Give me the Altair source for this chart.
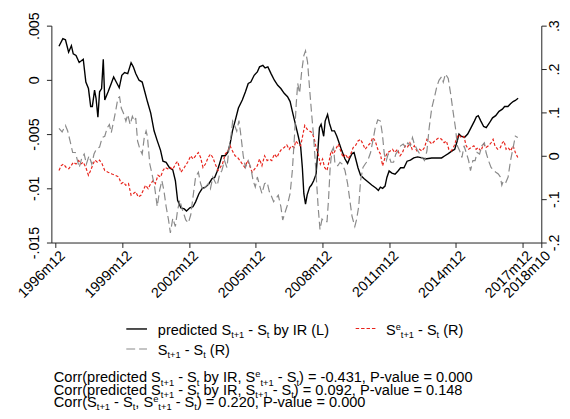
import altair as alt
import pandas as pd

# x values: months since 1996m12; y values in axis units
t_pred = [1.8, 3.9, 5.3, 7.0, 8.5, 9.5, 11.0, 12.7, 14.9, 16.3, 17.7, 18.9, 19.8, 21.0, 21.8, 22.8, 23.7, 24.8,
          25.7, 26.5, 28.3, 30.0, 31.3, 32.7, 34.3, 35.7, 37.2, 38.9, 40.7, 41.9, 43.2, 45.0, 46.7, 48.1, 49.5,
          51.3, 53.1, 54.8, 56.6, 57.9, 59.6, 61.4, 63.2, 64.6, 65.8, 67.6, 69.4, 70.6, 72.4, 74.1, 75.5, 77.3,
          79.1, 80.8, 82.6, 84.4, 85.8, 87.0, 88.3, 89.7, 91.5, 92.9, 94.1, 95.4, 96.8, 98.6, 100.7, 102.4,
          103.9, 105.3, 107.1, 108.8, 110.0, 111.8, 113.0, 114.5, 116.2, 118.0, 119.8, 121.5, 123.3, 125.1,
          126.5, 127.7, 129.5, 130.9, 132.2, 133.1, 133.9, 134.8, 135.7, 137.0, 138.0, 139.2, 140.5, 141.6,
          142.3, 143.2, 144.6, 145.4, 146.7, 147.7, 149.0, 150.4, 151.7, 152.9, 154.3, 156.1, 157.5, 158.7,
          159.9, 161.0, 161.9, 163.1, 164.5, 166.3, 168.4, 170.5, 172.9, 174.1, 175.2, 176.4, 177.7, 178.7,
          179.9, 181.4, 183.1, 184.7, 186.1, 187.9, 189.6, 191.4, 193.2, 195.3, 197.6, 199.4, 202.9, 206.5,
          208.2, 210.0, 211.8, 213.5, 215.3, 216.7, 217.6, 218.8, 220.6, 222.3, 224.1, 225.9, 227.0, 228.0,
          229.4, 230.9, 232.3, 233.9, 235.7, 237.4, 239.2, 241.0, 242.2, 244.0, 245.4, 246.8, 248.0, 249.5]
v_pred = [.0031, .0038, .0037, .00255, .00315, .0024, .00225, .0016, .0019, -.0002, -.0008, -.00245, -.00245,
          -.00094, -.0017, -.00345, -.0011, -.0008, .0019, -.00185, -.0011, -.00033, .00027, -.0002, -.00073,
          .00042, .00067, .00058, .00158, .0012, .00058, -.00003, -.0002, -.0011, -.002, -.00306, -.0047,
          -.0056, -.0065, -.0075, -.0076, -.0081, -.0083, -.0093, -.0111, -.0118, -.0119, -.0121, -.0118,
          -.0117, -.01125, -.0105, -.0100, -.0099, -.0096, -.0091, -.0090, -.0085, -.0078, -.0070, -.0070,
          -.0067, -.0059, -.0047, -.0038, -.0026, -.00185, -.0011, -.00033, -.0002, .00042, .00073, .0012,
          .00133, .0011, .0012, .00058, -.00003, -.0005, -.0008, -.00124, -.00155, -.002, -.0029, -.0042,
          -.0052, -.0062, -.0081, -.0105, -.01145, -.0106, -.0099, -.0097, -.0093, -.0087, -.0062, -.0044,
          -.0041, -.0052, -.0038, -.0032, -.0040, -.0047, -.0047, -.0052, -.0058, -.0065, -.0073, -.0077,
          -.0072, -.0068, -.0067, -.0073, -.0081, -.0088, -.0091, -.0094, -.0097, -.0100, -.0102, -.0099,
          -.0100, -.0098, -.0090, -.0084, -.0086, -.0087, -.0084, -.0081, -.0081, -.0075, -.0074, -.0072,
          -.0071, -.0072, -.0073, -.0072, -.0072, -.0072, -.0070, -.0068, -.0066, -.0064, -.0056, -.0050,
          -.0052, -.0053, -.0050, -.0044, -.0038, -.0034, -.0033, -.0038, -.0043, -.0044, -.0040, -.0035,
          -.0033, -.0029, -.0027, -.00245, -.00245, -.0022, -.0020, -.0019, -.0017]

t_act = [1.8, 3.5, 5.3, 6.5, 7.8, 9.2, 10.6, 11.8, 12.7, 14.2, 15.4, 16.6, 18.0, 19.5, 20.7, 21.9, 23.7, 25.1,
         26.5, 27.8, 29.0, 30.0, 31.3, 32.5, 33.6, 34.5, 35.4, 36.6, 37.9, 38.9, 40.2, 41.4, 42.5, 43.2, 44.2,
         45.5, 46.7, 47.8, 48.8, 49.5, 50.8, 52.0, 53.4, 54.8, 56.1, 57.3, 58.4, 59.6, 60.9, 61.9, 63.2, 64.6,
         65.8, 67.0, 68.1, 69.3, 70.2, 71.6, 72.9, 74.1, 75.5, 77.0, 78.2, 79.5, 80.8, 82.3, 83.5, 84.8, 86.1,
         87.2, 88.5, 89.7, 91.1, 92.4, 93.6, 94.7, 95.5, 96.4, 97.7, 98.9, 100.0, 101.2, 102.4, 103.9, 105.3,
         106.5, 107.7, 108.8, 110.0, 111.3, 112.7, 114.1, 115.3, 116.6, 117.6, 118.9, 120.1, 121.5, 122.5,
         123.6, 125.0, 126.5, 127.7, 128.9, 129.8, 130.6, 131.6, 132.7, 133.9, 134.8, 135.9, 137.0, 138.0,
         139.2, 140.5, 141.6, 142.6, 143.7, 145.0, 146.4, 147.2, 148.1, 149.0, 149.9, 150.7, 152.2, 153.4,
         154.6, 156.1, 157.5, 158.7, 159.9, 161.4, 162.3, 163.5, 164.5, 165.8, 167.0, 168.4, 169.9, 171.1,
         172.4, 173.8, 175.2, 176.3, 177.3, 178.4, 179.4, 180.9, 182.3, 183.5, 184.7, 186.1, 187.5, 188.8,
         190.0, 191.4, 192.5, 193.5, 194.9, 196.3, 197.6, 199.0, 200.3, 201.5, 202.9, 204.4, 205.6, 206.8,
         208.2, 209.1, 210.3, 211.8, 213.2, 214.4, 215.7, 216.7, 218.0, 219.2, 220.3, 221.5, 222.8, 223.8,
         225.1, 226.3, 227.4, 228.7, 229.9, 231.3, 232.2, 233.5, 234.9, 236.3, 237.5, 238.8, 239.9, 240.7,
         241.6, 242.9, 244.1, 245.4, 246.8, 248.0, 249.3]
v_act = [.063, .055, .070, .057, .034, .0075, .0075, -.011, -.027, -.004, .004, -.019, .0, -.019, .004, .015,
         .020, .042, .045, .064, .072, .053, .080, .106, .133, .136, .110, .098, .080, .095, .072, .091, .080,
         .087, .034, .015, .004, .042, .057, .045, -.019, -.042, -.072, -.117, -.080, -.057, -.080, -.117,
         -.148, -.178, -.144, -.163, -.125, -.102, -.121, -.136, -.148, -.155, -.136, -.095, -.049, -.038,
         -.064, -.080, -.072, -.064, -.076, -.049, -.061, -.068, -.042, -.034, -.011, -.027, .019, .049, .080,
         .072, .057, .081, .045, .0, -.027, -.011, -.027, -.057, -.072, -.049, -.068, -.087, -.064, -.061,
         -.083, -.095, -.106, -.098, -.091, -.117, -.148, -.133, -.114, -.087, -.034, .049, .120, .167, .144,
         .193, .231, .242, .216, .155, .102, .042, -.042, -.117, -.170, -.146, -.152, -.152, -.102, -.027,
         .011, .019, -.019, -.023, -.015, -.019, -.034, -.064, -.102, -.140, -.163, -.148, -.117, -.057,
         -.027, -.019, -.011, .0075, .034, .064, .083, .080, .049, .004, -.011, .004, -.015, -.015, .004,
         .011, .023, .027, .019, .030, .023, .042, .027, .015, .005, -.004, -.011, .011, .064, .110, .136,
         .159, .174, .182, .170, .189, .178, .140, .102, .064, .023, .011, -.004, .023, .0075, -.011, -.034,
         -.011, -.011, .0075, .004, .023, .030, .0075, -.011, -.027, -.034, -.038, -.042, -.049, -.068,
         -.057, -.061, -.049, -.011, .019, .045, .042]

t_exp = [1.8, 3.0, 4.2, 5.7, 7.1, 8.3, 9.6, 11.0, 12.4, 13.6, 14.9, 16.3, 17.7, 18.9, 20.2, 21.2, 22.5, 23.7,
         25.1, 26.5, 28.3, 30.4, 32.2, 34.0, 35.4, 36.6, 37.8, 39.3, 40.7, 42.0, 43.2, 44.6, 46.0, 47.2, 48.5,
         49.9, 51.3, 52.7, 53.8, 55.2, 56.6, 57.9, 59.1, 60.5, 61.9, 63.2, 64.6, 65.8, 67.6, 69.4, 71.2, 72.9,
         74.1, 75.5, 77.0, 78.2, 79.5, 80.8, 82.3, 83.5, 84.8, 86.1, 87.6, 88.8, 90.0, 91.5, 92.9, 94.1, 95.4,
         96.8, 98.2, 99.4, 100.7, 102.1, 103.5, 104.7, 106.0, 107.4, 108.8, 110.0, 111.3, 112.7, 114.1, 115.3,
         116.6, 118.0, 119.4, 120.6, 121.9, 123.3, 124.7, 126.0, 127.2, 128.7, 129.5, 130.9, 132.2, 133.4,
         134.4, 135.7, 137.0, 138.4, 139.6, 140.5, 141.6, 142.8, 144.0, 145.1, 146.4, 147.6, 148.6, 149.9,
         151.1, 152.5, 153.8, 155.1, 156.4, 157.8, 159.2, 160.5, 161.7, 163.1, 164.5, 165.8, 167.0, 168.4,
         169.9, 171.1, 172.4, 173.8, 175.2, 176.4, 177.7, 179.1, 180.5, 181.7, 183.0, 184.4, 185.8, 187.1,
         188.5, 189.7, 191.1, 192.3, 193.5, 194.9, 196.3, 197.6, 199.0, 200.3, 201.5, 202.9, 204.4, 205.6,
         206.8, 208.2, 209.6, 210.8, 212.1, 213.5, 215.0, 216.2, 217.4, 218.8, 220.2, 221.5, 222.8, 224.1,
         225.6, 226.8, 228.0, 229.4, 230.9, 232.2, 233.5, 234.9, 236.0, 237.0, 238.5, 239.9, 241.0, 241.9,
         243.0, 244.1, 245.4, 246.8, 248.0, 249.3]
v_exp = [-.034, -.023, -.019, -.027, -.030, -.023, -.015, -.019, -.011, -.019, -.015, -.027, -.045, -.034,
         -.019, -.010, -.015, -.010, -.019, -.034, -.038, -.042, -.045, -.049, -.064, -.061, -.068, -.064,
         -.091, -.087, -.083, -.095, -.091, -.080, -.068, -.076, -.064, -.057, -.064, -.045, -.049, -.034,
         -.027, -.030, -.027, -.032, -.019, -.013, -.038, -.027, -.015, .0, -.0075, .0, .0075, -.004, -.027,
         -.019, -.004, .004, -.004, -.019, -.034, -.027, -.019, .004, .011, .023, .011, .0, -.004, -.011,
         -.019, -.027, -.011, -.023, -.038, -.030, -.023, -.0075, -.023, .0, -.011, -.0075, -.011, .004,
         -.004, .0075, .015, .019, .025, .015, .023, .019, .034, .027, .023, .049, .070, .061, .057, .053,
         .038, .019, .004, -.019, -.0075, -.027, -.034, -.011, .011, .004, .015, .027, .011, -.004, .004,
         -.0075, .004, .019, .023, .034, .038, .027, .015, .023, .030, .042, .034, .015, .004, -.023, -.004,
         .0075, .011, .015, .0075, .015, .0, .0075, .023, .019, .030, .015, .023, .011, .015, .011, .019,
         .038, .034, .027, .034, .038, .042, .038, .030, .034, .015, .011, .023, .038, .049, .042, .045,
         .023, .015, .019, .023, .015, .019, .011, .027, .019, .023, .030, .038, .023, .015, .019, .030,
         .034, .015, .019, .011, .023, .0075, -.004]

x_tick_vals = [0, 36, 72, 108, 144, 180, 216, 252, 262]
x_tick_labels = ["1996m12", "1999m12", "2002m12", "2005m12", "2008m12", "2011m12", "2014m12", "2017m12", "2018m10"]
left_ticks = [-0.015, -0.01, -0.005, 0, 0.005]
right_ticks = [-0.2, -0.1, 0, 0.1, 0.2, 0.3]

FONT = "Liberation Sans"
FS = 14.5
W, H = 497, 220
X0, Y0 = 52, 23  # page position of the plot area's top-left corner

pred = pd.DataFrame({"t": t_pred, "v": v_pred})
act = pd.DataFrame({"t": t_act, "v": v_act})
exp = pd.DataFrame({"t": t_exp, "v": v_exp})

x_expr = ("[" + ",".join("'%s'" % s for s in x_tick_labels) + "][indexof(["
          + ",".join(str(v) for v in x_tick_vals) + "], datum.value)]")
num_expr = ("datum.value == 0 ? '0' : (datum.value < 0 ? '-' : '') + "
            "replace(format(abs(datum.value), '~g'), '0.', '.')")

axis_common = dict(grid=False, title=None, domainColor="#222", tickColor="#222", domainWidth=1, tickWidth=1,
                   labelFont=FONT, labelFontSize=FS, labelColor="black", tickSize=5)

xscale = alt.Scale(domain=[-2.3, 262], nice=False, zero=False)
x_axis = alt.X("t:Q", scale=xscale, axis=alt.Axis(values=x_tick_vals, labelExpr=x_expr, labelAngle=-45,
                                                   labelAlign="right", labelBaseline="top", labelPadding=1,
                                                   labelOffset=2, labelOverlap=False, **axis_common))
x_noaxis = alt.X("t:Q", scale=xscale, axis=None)

left = alt.Chart(pred).mark_line(color="black", strokeWidth=1.4).encode(
    x=x_axis,
    y=alt.Y("v:Q", scale=alt.Scale(domain=[-0.015, 0.005], nice=False, zero=False),
            axis=alt.Axis(orient="left", values=left_ticks, labelExpr=num_expr, labelAngle=-90,
                          labelAlign="center", labelBaseline="alphabetic", labelPadding=8, **axis_common)))

ry = alt.Scale(domain=[-0.2, 0.3], nice=False, zero=False)
red = alt.Chart(exp).mark_line(color="#e8231b", strokeWidth=1.2, strokeDash=[3, 2]).encode(
    x=x_noaxis,
    y=alt.Y("v:Q", scale=ry,
            axis=alt.Axis(orient="right", values=right_ticks, labelExpr=num_expr, labelAngle=-90,
                          labelAlign="center", labelBaseline="alphabetic", labelPadding=12, **axis_common)))
gray = alt.Chart(act).mark_line(color="#8a8a8a", strokeWidth=1.2, strokeDash=[8, 4]).encode(
    x=x_noaxis, y=alt.Y("v:Q", scale=ry))
right = alt.layer(red, gray)

# ---- text (legend labels and notes) with Stata-like sub/superscripts ----
AW = {' ': 278, '(': 333, ')': 333, '+': 584, ',': 278, '-': 333, '.': 278, '=': 584, 'C': 722, 'I': 278,
      'L': 556, 'P': 667, 'R': 722, 'S': 667, 'a': 556, 'b': 556, 'c': 500, 'd': 556, 'e': 556, 'i': 222,
      'l': 222, 'o': 556, 'p': 556, 'r': 333, 't': 278, 'u': 556, 'v': 500, 'y': 500, 'm': 833}
for d in "0123456789":
    AW[d] = 556
SUBF, SUBDY, SUPDY = 0.64, 3.6, -5.2


def layout(parts, x0, y0, fs):
    rows, x = [], x0
    for txt, kind in parts:
        size = fs if kind == "n" else fs * SUBF
        dy = SUBDY if kind == "b" else (SUPDY if kind == "p" else 0)
        stripped = txt.lstrip(" ")
        x += (len(txt) - len(stripped)) * AW[" "] / 1000 * size
        rows.append({"text": stripped, "x": x - X0, "y": y0 + dy - Y0, "s": size})
        x += sum(AW[c] for c in stripped) / 1000 * size
    return rows


legend_rows = [
    ([("predicted S", "n"), ("t+1", "b"), (" - S", "n"), ("t", "b"), (" by IR (L)", "n")], 160, 336.6),
    ([("S", "n"), ("e", "p"), ("t+1", "b"), (" - S", "n"), ("t", "b"), (" (R)", "n")], 391.5, 336.6),
    ([("S", "n"), ("t+1", "b"), (" - S", "n"), ("t", "b"), (" (R)", "n")], 160, 356.6),
]
note_rows = [
    ([("Corr(predicted S", "n"), ("t+1", "b"), (" - S", "n"), ("t", "b"), (" by IR, S", "n"), ("e", "p"),
      ("t+1", "b"), (" - S", "n"), ("t", "b"), (") = -0.431, P-value = 0.000", "n")], 54.5, 384.8),
    ([("Corr(predicted S", "n"), ("t+1", "b"), (" - S", "n"), ("t", "b"), (" by IR, S", "n"),
      ("t+1", "b"), (" - S", "n"), ("t", "b"), (") = 0.092, P-value = 0.148", "n")], 54.5, 397.3),
    ([("Corr(S", "n"), ("t+1", "b"), (" - S", "n"), ("t", "b"), (", S", "n"), ("e", "p"),
      ("t+1", "b"), (" - S", "n"), ("t", "b"), (") = 0.220, P-value = 0.000", "n")], 54.5, 409.6),
]
segs = []
for parts, x0, y0 in legend_rows:
    segs += layout(parts, x0, y0, 14.7)
for parts, x0, y0 in note_rows:
    segs += layout(parts, x0, y0, 14.8)

text_layer = alt.Chart(pd.DataFrame(segs)).mark_text(
    align="left", baseline="alphabetic", font=FONT, color="black").encode(
    x=alt.X("x:Q", scale=None, axis=None), y=alt.Y("y:Q", scale=None, axis=None),
    size=alt.Size("s:Q", scale=None, legend=None), text="text:N")

one = pd.DataFrame({"k": [0]})
key_black = alt.Chart(one).mark_rule(color="black", strokeWidth=1.4).encode(
    x=alt.value(128 - X0), x2=alt.value(149 - X0), y=alt.value(330.7 - Y0))
key_red = alt.Chart(one).mark_rule(color="#e8231b", strokeWidth=1.2, strokeDash=[3.5, 2]).encode(
    x=alt.value(360.7 - X0), x2=alt.value(382.7 - X0), y=alt.value(330.2 - Y0))
key_gray = alt.Chart(one).mark_rule(color="#8a8a8a", strokeWidth=1.2, strokeDash=[9, 4]).encode(
    x=alt.value(128 - X0), x2=alt.value(149 - X0), y=alt.value(351 - Y0))

chart = alt.layer(left, right, text_layer, key_black, key_red, key_gray).resolve_scale(
    x="independent", y="independent").properties(
    width=W, height=H, autosize="none",
    padding={"left": X0 - 8, "top": Y0 - 8, "right": 570 - X0 - W, "bottom": 403 - (Y0 - 8) - H},
    background="white").configure_view(stroke=None)

chart.save("out.html", embed_options={"renderer": "svg", "actions": False})
